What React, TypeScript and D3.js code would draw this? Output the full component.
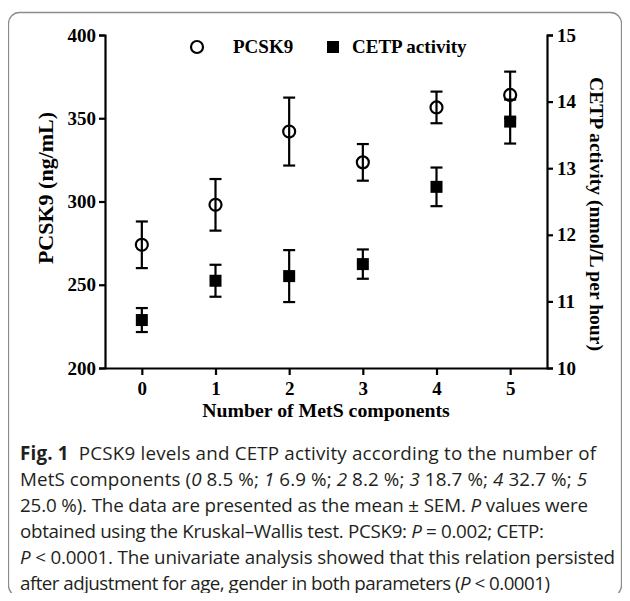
import React, { useEffect, useRef } from 'react';
import * as d3 from 'd3';

// number of MetS components
const components = [0, 1, 2, 3, 4, 5];
// PCSK9 (ng/mL), mean and SEM
const pcsk9Mean = [274, 298, 342, 323.5, 356.5, 364];
const pcsk9Sem = [14, 15.5, 20.4, 11, 9.5, 14];
// CETP activity (nmol/L per hour), mean and SEM
const cetpMean = [10.72, 11.31, 11.38, 11.56, 12.72, 13.7];
const cetpSem = [0.18, 0.24, 0.39, 0.22, 0.29, 0.33];

const leftTicks = [200, 250, 300, 350, 400];
const rightTicks = [10, 11, 12, 13, 14, 15];

const W = 630;
const H = 601;
const left = 105;
const right = 547;
const top = 35;
const bottom = 368;
const serif = "'Liberation Serif', 'DejaVu Serif', Times, serif";
const sans = "'Open Sans', Roboto, 'Liberation Sans', sans-serif";

const App = () => {
  const node = useRef<SVGGElement>(null);

  useEffect(() => {
    const svg = d3.select(node.current);
    svg.selectAll('*').remove();

    const x = d3.scaleLinear().domain([-0.5, 5.5]).range([left, right]);
    const yL = d3.scaleLinear().domain([200, 400]).range([bottom, top]);
    const yR = d3.scaleLinear().domain([10, 15]).range([bottom, top]);

    const styleAxis = (g: any) => {
      g.attr('font-family', serif).attr('font-size', 19);
      g.select('.domain').attr('stroke-width', 2.2);
      g.selectAll('.tick line').attr('stroke-width', 2.2);
      g.selectAll('.tick text')
        .style('font-family', serif)
        .attr('font-weight', 'bold')
        .attr('font-size', 19)
        .attr('fill', '#000');
    };

    svg.append('g')
      .attr('transform', `translate(${left},0)`)
      .call(d3.axisLeft(yL).tickValues(leftTicks).tickFormat(d3.format('d')).tickSize(6).tickSizeOuter(6).tickPadding(3))
      .call(styleAxis);

    svg.append('g')
      .attr('transform', `translate(${right},0)`)
      .call(d3.axisRight(yR).tickValues(rightTicks).tickFormat(d3.format('d')).tickSize(6).tickSizeOuter(6).tickPadding(4))
      .call(styleAxis);

    svg.append('g')
      .attr('transform', `translate(0,${bottom})`)
      .call(d3.axisBottom(x).tickValues(components).tickFormat(d3.format('d')).tickSize(7).tickSizeOuter(0).tickPadding(7))
      .call(styleAxis);

    const title = (t: any, size: number) => t
      .style('font-family', serif)
      .attr('font-weight', 'bold')
      .attr('font-size', size)
      .attr('text-anchor', 'middle');

    svg.append('text')
      .attr('x', (left + right) / 2).attr('y', 417)
      .call(title, 19.8)
      .text('Number of MetS components');

    svg.append('text')
      .attr('transform', 'translate(53,188) rotate(-90)')
      .call(title, 22)
      .text('PCSK9 (ng/mL)');

    svg.append('text')
      .attr('transform', 'translate(590,214) rotate(90)')
      .call(title, 19.6)
      .text('CETP activity (nmol/L per hour)');

    // error bars
    const capW = 6;
    const drawBars = (mean: number[], sem: number[], y: any) => {
      const g = svg.append('g').attr('stroke', '#000').attr('stroke-width', 2.2).attr('fill', 'none');
      components.forEach((c, i) => {
        const cx = x(c);
        const y1 = y(mean[i] + sem[i]);
        const y2 = y(mean[i] - sem[i]);
        g.append('line').attr('x1', cx).attr('x2', cx).attr('y1', y1).attr('y2', y2);
        g.append('line').attr('x1', cx - capW).attr('x2', cx + capW).attr('y1', y1).attr('y2', y1);
        g.append('line').attr('x1', cx - capW).attr('x2', cx + capW).attr('y1', y2).attr('y2', y2);
      });
    };
    drawBars(pcsk9Mean, pcsk9Sem, yL);
    drawBars(cetpMean, cetpSem, yR);

    svg.append('g').selectAll('rect')
      .data(cetpMean)
      .enter()
      .append('rect')
      .attr('x', (d, i) => x(components[i]) - 6)
      .attr('y', (d) => yR(d) - 6)
      .attr('width', 12).attr('height', 12)
      .attr('fill', '#000');

    svg.append('g').selectAll('circle')
      .data(pcsk9Mean)
      .enter()
      .append('circle')
      .attr('cx', (d, i) => x(components[i]))
      .attr('cy', (d) => yL(d))
      .attr('r', 6)
      .attr('fill', 'none')
      .attr('stroke', '#000')
      .attr('stroke-width', 2.2);

    // legend
    const ly = 47;
    svg.append('circle').attr('cx', 197).attr('cy', ly).attr('r', 6)
      .attr('fill', 'none').attr('stroke', '#000').attr('stroke-width', 2.2);
    svg.append('text').attr('x', 233).attr('y', ly + 6)
      .style('font-family', serif).attr('font-weight', 'bold').attr('font-size', 19)
      .text('PCSK9');
    svg.append('rect').attr('x', 327).attr('y', ly - 6).attr('width', 12).attr('height', 12).attr('fill', '#000');
    svg.append('text').attr('x', 352).attr('y', ly + 6)
      .style('font-family', serif).attr('font-weight', 'bold').attr('font-size', 19)
      .text('CETP activity');
  }, []);

  const capStyle = { fontFamily: sans, fontSize: 18.8, fill: '#231f20' };
  const lineY = [460, 486, 512, 538, 564, 590];
  const lineW = [576, 567, 568, 524, 595, 530];
  const it = { fontStyle: 'italic' as const };
  const cap = (i: number) => ({
    x: 20,
    y: lineY[i],
    style: capStyle,
    textLength: lineW[i],
    lengthAdjust: 'spacing' as const,
  });

  return (
    <svg width={W} height={H} style={{ display: 'block', margin: '-8px' }}>
      <rect x={8.5} y={12.5} width={613} height={584} rx={11} fill="none" stroke="#8c8c8c" strokeWidth={1.3} />
      <g ref={node} />
      <text {...cap(0)}>
        <tspan fontWeight="bold">Fig. 1</tspan>
        <tspan>{'\u00a0\u00a0PCSK9 levels and CETP activity according to the number of'}</tspan>
      </text>
      <text {...cap(1)}>
        MetS components (<tspan style={it}>0</tspan> 8.5 %; <tspan style={it}>1</tspan> 6.9 %; <tspan style={it}>2</tspan> 8.2 %; <tspan style={it}>3</tspan> 18.7 %; <tspan style={it}>4</tspan> 32.7 %; <tspan style={it}>5</tspan>
      </text>
      <text {...cap(2)}>
        25.0 %). The data are presented as the mean ± SEM. <tspan style={it}>P</tspan> values were
      </text>
      <text {...cap(3)}>
        obtained using the Kruskal–Wallis test. PCSK9: <tspan style={it}>P</tspan> = 0.002; CETP:
      </text>
      <text {...cap(4)}>
        <tspan style={it}>P</tspan> {'< 0.0001. The univariate analysis showed that this relation persisted'}
      </text>
      <text {...cap(5)}>
        after adjustment for age, gender in both parameters (<tspan style={it}>P</tspan> {'< 0.0001)'}
      </text>
    </svg>
  );
};

export default App;
